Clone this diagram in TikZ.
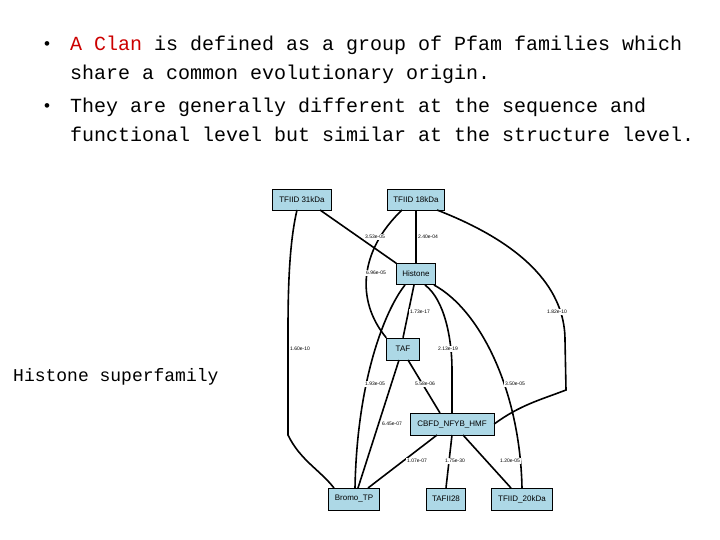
\documentclass[tikz,border=0pt]{standalone}
\usepackage{fontspec}
\setmainfont{Liberation Sans}
\newfontfamily\cour{Liberation Mono}
\definecolor{lb}{RGB}{173,216,230}
\definecolor{clr}{RGB}{204,0,0}
\begin{document}
\begin{tikzpicture}[x=1pt,y=-1pt,
  fam/.style={draw,fill=lb,inner sep=0pt,font=\fontsize{8}{9}\selectfont},
  ed/.style={line width=1.6pt},
  lab/.style={font=\fontsize{5}{6}\selectfont,inner sep=1pt,fill=white},
  bt/.style={anchor=base west,font=\cour\fontsize{20}{24}\selectfont,inner sep=0pt},
  bul/.style={anchor=base west,font=\fontsize{17}{20}\selectfont,inner sep=0pt}]
\useasboundingbox (0,0) rectangle (720,540);
\node[bt] (l1) at (70,51) {\textcolor{clr}{A Clan} is defined as a group of Pfam families which};
\node[bt] (l2) at (70,80) {share a common evolutionary origin.};
\node[bt] (l3) at (70,113) {They are generally different at the sequence and};
\node[bt] (l4) at (70,142) {functional  level but similar at the structure level.};
\node[bul] (b1) at (44,50) {•};
\node[bul] (b2) at (44,112) {•};
\node[anchor=base west,font=\cour\fontsize{18}{20}\selectfont,inner sep=0pt] (hs) at (13,381) {Histone superfamily};

\node[fam,minimum width=59pt,minimum height=21pt] (a) at (302,200) {TFIID 31kDa};
\node[fam,minimum width=57pt,minimum height=21pt] (b) at (416,200) {TFIID 18kDa};
\node[fam,minimum width=39pt,minimum height=21pt] (h) at (416,274) {Histone};
\node[fam,minimum width=33pt,minimum height=22pt] (t) at (403,349) {TAF};
\node[fam,minimum width=84pt,minimum height=22pt] (c) at (452,424) {CBFD\_NFYB\_HMF};
\node[fam,minimum width=51pt,minimum height=22pt] (br) at (354,499) {Bromo\_TP};
\node[fam,minimum width=39pt,minimum height=22pt] (t28) at (446,499) {TAFII28};
\node[fam,minimum width=61pt,minimum height=22pt] (t20) at (522,499) {TFIID\_20kDa};

\coordinate (a1) at (320,210);
\coordinate (a2) at (297,210);
\coordinate (b1p) at (402,210);
\coordinate (b2p) at (437,210);
\coordinate (h1) at (405,285);
\coordinate (h2) at (414,285);
\coordinate (h3) at (425,285);
\coordinate (h4) at (434,285);
\coordinate (t1) at (399,360);
\coordinate (t2) at (408,360);
\coordinate (c1) at (440,413);
\coordinate (c2) at (437,435);
\coordinate (c3) at (452,435);
\coordinate (c4) at (463,435);
\coordinate (br1) at (334,488);
\coordinate (br2) at (355,488);
\coordinate (br3) at (358,488);
\coordinate (br4) at (368,488);
\coordinate (t201) at (511,488);
\coordinate (t202) at (522,488);

\draw[ed] (a1) -- (h.north west);
\draw[ed] (b) -- (h);
\draw[ed] (b1p) .. controls (360,250) and (355,300) .. (t.north west);
\draw[ed] (b2p) .. controls (540,250) and (565,300) .. (565,340) -- (566,390) .. controls (540,400) and (520,405) .. (c.east);
\draw[ed] (a2) .. controls (290,240) and (288,280) .. (288,330) -- (288,435) .. controls (300,460) and (320,470) .. (br1);
\draw[ed] (h1) .. controls (385,310) and (357,380) .. (br2);
\draw[ed] (h2) -- (t.north);
\draw[ed] (h3) .. controls (445,300) and (452,340) .. (452,370) -- (c.north);
\draw[ed] (h4) .. controls (480,310) and (520,390) .. (t202);
\draw[ed] (t2) -- (c1);
\draw[ed] (t1) -- (br3);
\draw[ed] (c2) -- (br4);
\draw[ed] (c3) -- (t28.north);
\draw[ed] (c4) -- (t201);

\node[lab] at (375,237) {3.53e-05};
\node[lab] at (428,237) {2.40e-04};
\node[lab] at (376,273) {6.96e-05};
\node[lab] at (557,312) {1.82e-10};
\node[lab] at (300,349) {1.60e-10};
\node[lab] at (420,312) {1.73e-17};
\node[lab] at (448,349) {2.13e-19};
\node[lab] at (375,384) {1.93e-05};
\node[lab] at (425,384) {5.58e-06};
\node[lab] at (515,384) {3.50e-05};
\node[lab] at (392,424) {6.45e-07};
\node[lab] at (417,461) {1.07e-07};
\node[lab] at (455,461) {1.75e-30};
\node[lab] at (510,461) {1.20e-05};
\end{tikzpicture}
\end{document}
